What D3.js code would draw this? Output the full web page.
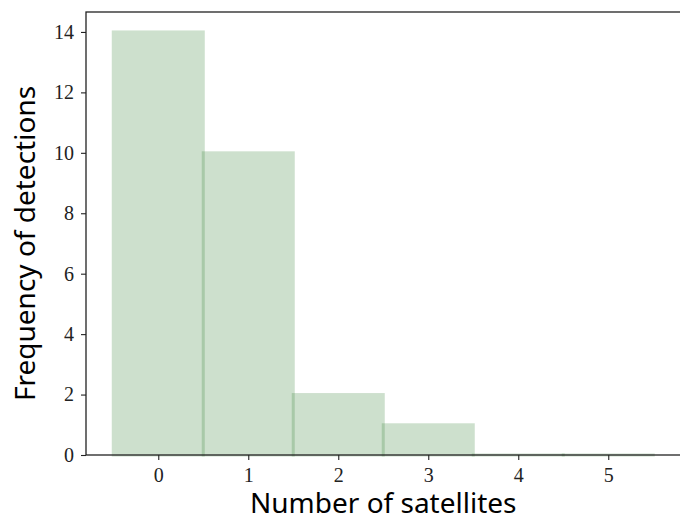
<!DOCTYPE html>
<html>
<head>
<meta charset="utf-8">
<script src="https://cdn.jsdelivr.net/npm/d3@7"></script>
<style>
  body { margin: 0; background: #fff; }
  .tick text { font-family: "Liberation Serif", "DejaVu Serif", serif; }
</style>
</head>
<body>
<div id="chart"></div>
<script>
// Histogram data
const satellites = [0, 1, 2, 3, 4, 5];
const detections = [14, 10, 2, 1, 0, 0];
const yTicks = [0, 2, 4, 6, 8, 10, 12, 14];

var margin = { top: 12, right: -8, bottom: 63, left: 86 };
var width = 680 - margin.left - margin.right;
var height = 518 - margin.top - margin.bottom;

var svg = d3
  .select("#chart")
  .append("svg")
  .attr("width", 680)
  .attr("height", 518)
  .append("g")
  .attr("transform", "translate(" + margin.left + "," + margin.top + ")");

var x = d3.scaleLinear().domain([-0.803, 5.886]).range([0, width]);
var y = d3.scaleLinear().domain([0, 14.66]).range([height, 0]);

// bars (edge adds ~1.5px on each side, edges overlap where bars touch)
var pad = 1.5;
svg
  .selectAll("rect.bar")
  .data(satellites)
  .enter()
  .append("rect")
  .attr("class", "bar")
  .attr("x", function (d) { return x(d - 0.5) - pad; })
  .attr("y", function (d, i) { return y(detections[i]) - pad; })
  .attr("width", function (d) { return x(d + 0.5) - x(d - 0.5) + 2 * pad; })
  .attr("height", function (d, i) { return y(0) - y(detections[i]) + 2 * pad; })
  .attr("fill", "rgb(62,136,62)")
  .attr("opacity", 0.26);

// axes
var xAxis = svg
  .append("g")
  .attr("transform", "translate(0," + height + ")")
  .call(d3.axisBottom(x).tickValues(satellites).tickSize(5).tickPadding(8).tickFormat(d3.format("d")));

var yAxis = svg
  .append("g")
  .call(d3.axisLeft(y).tickValues(yTicks).tickSize(5).tickPadding(7).tickFormat(d3.format("d")));

[xAxis, yAxis].forEach(function (g) {
  g.select(".domain").remove();
  g.selectAll(".tick line").attr("stroke", "#222").attr("stroke-width", 1.1);
  g.selectAll(".tick text").attr("fill", "#222").style("font-size", "20px");
});

// frame (right side falls just outside the picture)
svg
  .append("rect")
  .attr("x", 0)
  .attr("y", 0)
  .attr("width", width)
  .attr("height", height)
  .attr("fill", "none")
  .attr("stroke", "#222")
  .attr("stroke-width", 1.3);

// labels
svg
  .append("text")
  .attr("x", x(2.5))
  .attr("y", height + 58)
  .attr("text-anchor", "middle")
  .style("font-family", "'Noto Sans', 'DejaVu Sans', sans-serif")
  .style("font-size", "28px")
  .attr("fill", "#000")
  .text("Number of satellites");

svg
  .append("text")
  .attr("transform", "rotate(-90)")
  .attr("x", -y(7.0))
  .attr("y", -51)
  .attr("text-anchor", "middle")
  .style("font-family", "'Noto Sans', 'DejaVu Sans', sans-serif")
  .style("font-size", "28px")
  .attr("fill", "#000")
  .text("Frequency of detections");
</script>
</body>
</html>
